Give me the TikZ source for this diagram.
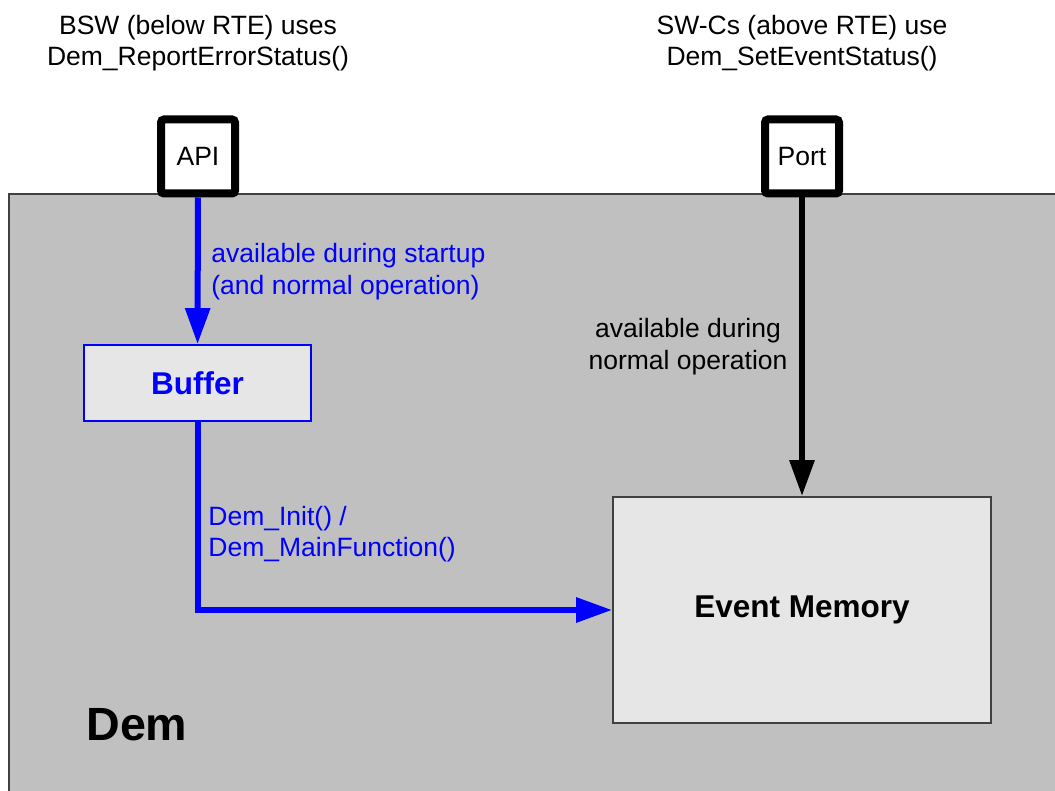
\documentclass[tikz,border=0pt]{standalone}
\usepackage{fontspec}
\setmainfont{Liberation Sans}
\usetikzlibrary{arrows.meta,positioning}
\definecolor{demgray}{HTML}{C0C0C0}
\definecolor{boxgray}{HTML}{E6E6E6}
\definecolor{framegray}{HTML}{404040}
\definecolor{flowblue}{HTML}{0000FF}

\begin{document}
\begin{tikzpicture}[x=0.5pt,y=-0.5pt,
  txt/.style={font=\fontsize{13.25}{15.75}\selectfont, inner sep=0pt, align=center},
  portbox/.style={draw=black, line width=4pt, rounded corners=1.5pt, fill=white, minimum size=37pt, inner sep=0pt, font=\fontsize{13.25}{15.75}\selectfont},
  membox/.style={fill=boxgray, line width=0.9pt, font=\bfseries\fontsize{15.75}{18}\selectfont},
  flow/.style={-{Triangle[length=18pt,width=12pt]}, line width=3pt}]
  \useasboundingbox (0,0) rectangle (1055,791);
  \fill[white] (0,0) rectangle (1055,791);
  \draw[framegray, fill=demgray, line width=1pt] (9,194) rectangle (1070,806);

  \node[portbox] (api) at (198,156.5) {API};
  \node[portbox] (port) at (802,156.5) {Port};
  \node[membox, draw=flowblue, text=flowblue, minimum width=113.5pt, minimum height=38pt] (buffer) at (197.5,383) {Buffer};
  \node[membox, draw=framegray, minimum width=189pt, minimum height=113pt] (memory) at (802,610) {Event Memory};

  \node[txt, anchor=north] (bswuse) at (198,14.7) {BSW (below RTE) uses\\Dem\_ReportErrorStatus()};
  \node[txt, anchor=north] (swcuse) at (802,14.7) {SW-Cs (above RTE) use\\Dem\_SetEventStatus()};

  \draw[flow, flowblue] (api) -- (buffer);
  \draw[flow, black] (port) -- (memory);
  \draw[flow, flowblue] (buffer.south) |- (memory.west);

  \node[txt, anchor=north west, align=left, text=flowblue] (startup) at (211,243) {available during startup\\(and normal operation)};
  \node[txt, anchor=north] (normalop) at (688,318) {available during\\normal operation};
  \node[txt, anchor=north west, align=left, text=flowblue] (initcall) at (208,505.7) {Dem\_Init() /\\Dem\_MainFunction()};
  \node[anchor=base west, inner sep=0pt, font=\bfseries\fontsize{23.3}{28}\selectfont] (demname) at (86,740) {Dem};
\end{tikzpicture}
\end{document}
